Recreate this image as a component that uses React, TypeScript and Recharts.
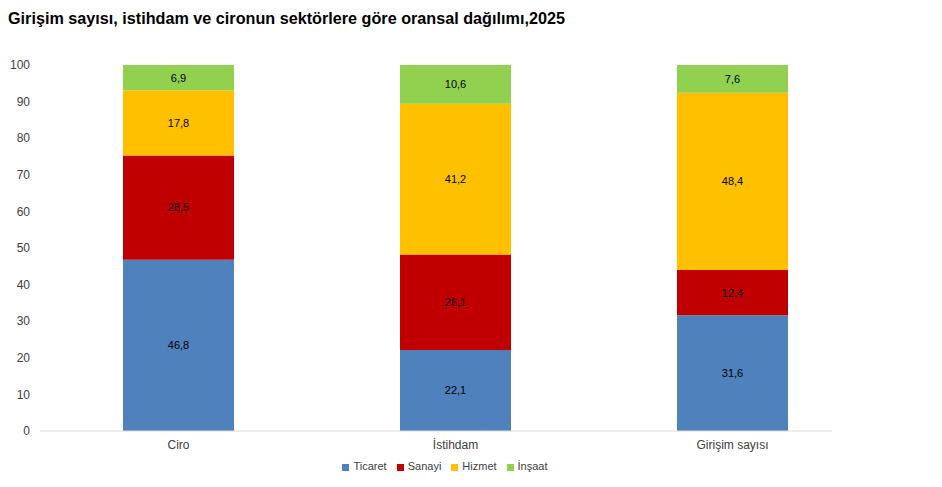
import React from "react";
import { BarChart, Bar, XAxis, YAxis, Legend, LabelList, ReferenceLine } from "recharts";

const categories = ["Ciro", "İstihdam", "Girişim sayısı"];
const ticaret = [46.8, 22.1, 31.6];
const sanayi = [28.5, 26.1, 12.4];
const hizmet = [17.8, 41.2, 48.4];
const insaat = [6.9, 10.6, 7.6];
const yTicks = [0, 10, 20, 30, 40, 50, 60, 70, 80, 90, 100];

const series = [
  { key: "ticaret", name: "Ticaret", color: "#4F81BD" },
  { key: "sanayi", name: "Sanayi", color: "#C00000" },
  { key: "hizmet", name: "Hizmet", color: "#FFC000" },
  { key: "insaat", name: "İnşaat", color: "#92D050" },
];

const data = categories.map((c, i) => ({
  name: c,
  ticaret: ticaret[i],
  sanayi: sanayi[i],
  hizmet: hizmet[i],
  insaat: insaat[i],
}));

const FONT = "'Liberation Sans', Arial, sans-serif";
const fmt = (v: any) => String(v).replace(".", ",");

// axis line stops short of the right edge of the plot, like the source
const AxisLine = (props: any) => {
  const { x1, x2, y1 } = props;
  return <line x1={x1} x2={x2 - 39} y1={y1} y2={y1} stroke="#D9D9D9" strokeWidth={1} />;
};

export default function App() {
  return (
    <div style={{ position: "absolute", left: 0, top: 0, width: 942, height: 487, background: "#fff", fontFamily: FONT }}>
      <div style={{ position: "absolute", left: 8, top: 9, fontSize: 16.2, fontWeight: 700, color: "#000", whiteSpace: "nowrap" }}>
        Girişim sayısı, istihdam ve cironun sektörlere göre oransal dağılımı,2025
      </div>
      <BarChart
        width={942}
        height={487}
        data={data}
        margin={{ top: 65, right: 71, bottom: 24, left: 0 }}
        barSize={111}
      >
        <YAxis
          width={40}
          domain={[0, 100]}
          ticks={yTicks}
          axisLine={false}
          tickLine={false}
          tickSize={0}
          tickMargin={10}
          tick={{ fontSize: 12, fill: "#404040", fontFamily: FONT }}
        />
        <XAxis
          dataKey="name"
          axisLine={false}
          tickLine={false}
          tickSize={0}
          tickMargin={9}
          height={20}
          tick={{ fontSize: 12, fill: "#404040", fontFamily: FONT }}
        />
        <ReferenceLine y={0} shape={AxisLine} />
        {series.map((s) => (
          <Bar key={s.key} dataKey={s.key} name={s.name} stackId="a" fill={s.color} isAnimationActive={false}>
            <LabelList
              dataKey={s.key}
              position="center"
              formatter={fmt}
              style={{ fontSize: 11, fill: "#000", fontFamily: FONT }}
            />
          </Bar>
        ))}
        <Legend
          iconType="square"
          iconSize={7}
          itemSorter={(item: any) => series.findIndex((s) => s.name === item.value)}
          wrapperStyle={{ top: 460, left: 0, width: 900, fontSize: 11, fontFamily: FONT }}
          formatter={(value: any) => <span style={{ color: "#404040" }}>{value}</span>}
        />
      </BarChart>
    </div>
  );
}
